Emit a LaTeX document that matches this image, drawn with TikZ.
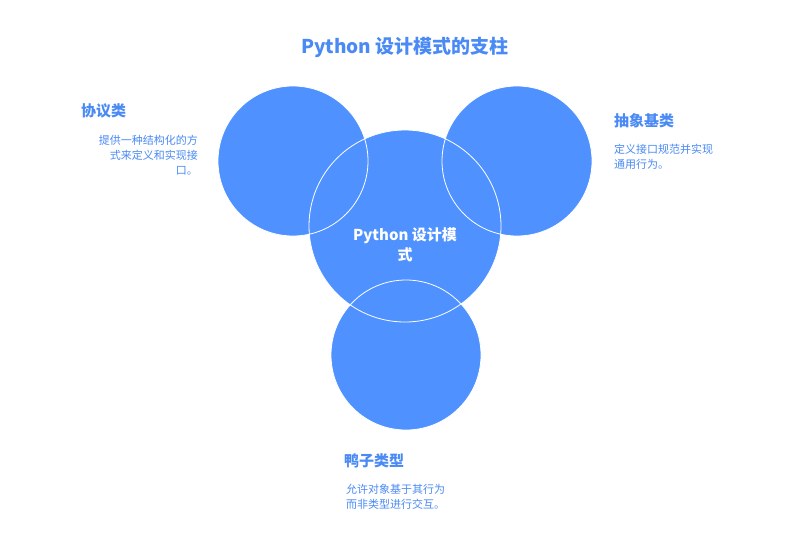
\documentclass[tikz,border=0pt]{standalone}
\usepackage{fontspec}
\setmainfont{Noto Sans CJK SC}
\begin{document}
\begin{tikzpicture}[x=1pt,y=-1pt,
  blob/.style={fill=cb,draw=none},
  rim/.style={draw=white,line width=0.8pt},
  head/.style={text=tb,font=\bfseries\fontsize{15}{18}\selectfont,inner sep=0},
  desc/.style={text=tb,font=\fontsize{11}{15}\selectfont,inner sep=0,align=left}]
\definecolor{cb}{HTML}{4F92FF}
\definecolor{tb}{HTML}{4A8AF4}
\useasboundingbox[fill=white] (0,0) rectangle (791,536);
\node[text=tb,font=\bfseries\fontsize{19}{22}\selectfont] (title) at (405,47) {Python 设计模式的支柱};
\coordinate (cl) at (293,161);
\coordinate (cr) at (517,161);
\coordinate (cc) at (405,226);
\coordinate (cd) at (406,355);
\fill[cb] (cl) circle (75) (cr) circle (75) (cd) circle (75) (cc) circle (96);
\draw[rim] (cl) circle (75) (cr) circle (75) (cd) circle (75) (cc) circle (96);
\node[text=white,font=\bfseries\fontsize{15}{20}\selectfont,align=center] (center) at (405,245) {Python 设计模\\式};
\node[head,anchor=west] (h1) at (81,111) {协议类};
\node[desc,anchor=north east,align=right] (d1) at (198,135) {提供一种结构化的方\\式来定义和实现接\\口。};
\node[head,anchor=west] (h2) at (614,121) {抽象基类};
\node[desc,anchor=north west] (d2) at (614,144) {定义接口规范并实现\\通用行为。};
\node[head,anchor=west] (h3) at (344,461) {鸭子类型};
\node[desc,anchor=north west] (d3) at (346,484) {允许对象基于其行为\\而非类型进行交互。};
\end{tikzpicture}
\end{document}
